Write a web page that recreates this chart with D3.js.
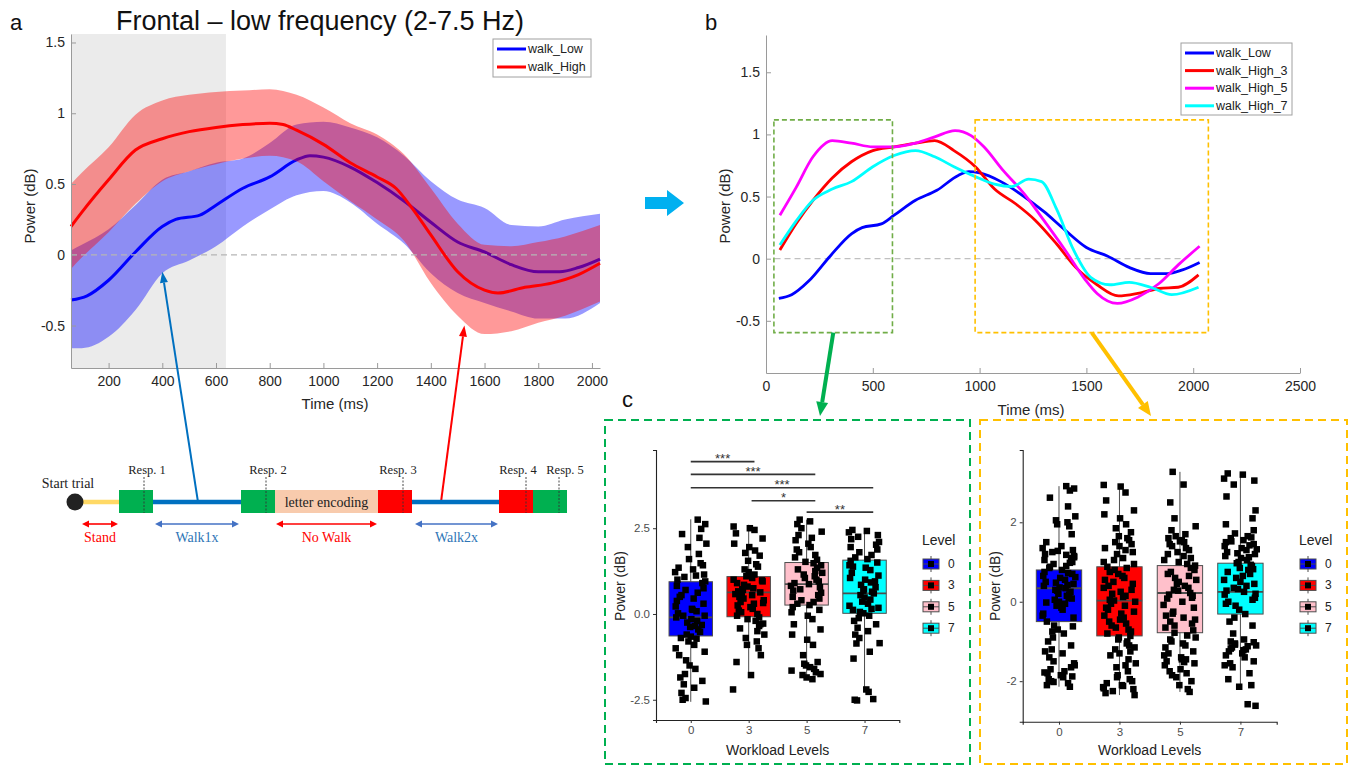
<!DOCTYPE html>
<html><head><meta charset="utf-8">
<script src="https://cdn.jsdelivr.net/npm/d3@7"></script>
<style>
body{margin:0;background:#fff}
svg{display:block}
text{font-family:"Liberation Sans",Arial,sans-serif}
</style></head>
<body><svg id="fig" width="1358" height="766"></svg>
<script>
// ---------------- Panel a data ----------------
const bandT     = [60,100,200,300,400,500,600,700,800,900,1000,1100,1200,1300,1400,1500,1600,1700,1800,1900,2030];
const lowUpper  = [0.03,0.07,0.18,0.35,0.53,0.59,0.65,0.68,0.79,0.92,0.94,0.90,0.83,0.70,0.52,0.39,0.33,0.21,0.20,0.25,0.29];
const lowLower  = [-0.66,-0.66,-0.58,-0.39,-0.13,-0.04,0.06,0.20,0.32,0.42,0.45,0.37,0.22,0.08,-0.13,-0.27,-0.34,-0.40,-0.45,-0.45,-0.34];
const highUpper = [0.50,0.58,0.76,0.99,1.09,1.13,1.15,1.16,1.17,1.13,1.04,0.93,0.85,0.71,0.47,0.22,0.07,0.06,0.09,0.13,0.21];
const highLower = [-0.10,-0.02,0.16,0.36,0.52,0.59,0.64,0.68,0.70,0.66,0.52,0.38,0.25,0.10,-0.20,-0.43,-0.56,-0.54,-0.48,-0.43,-0.33];
const lowT    = [60,120,200,300,400,450,540,600,700,800,900,950,1000,1100,1200,1300,1400,1500,1600,1700,1800,1880,1950,2030];
const lowMean = [-0.32,-0.29,-0.18,0.02,0.20,0.25,0.28,0.35,0.47,0.55,0.67,0.70,0.69,0.62,0.51,0.38,0.23,0.09,0.02,-0.07,-0.12,-0.12,-0.09,-0.03];
const highT    = [60,100,200,300,400,500,600,700,800,850,900,1000,1100,1200,1270,1330,1400,1500,1600,1650,1750,1850,1950,2030];
const highMean = [0.20,0.30,0.53,0.74,0.82,0.87,0.90,0.92,0.93,0.92,0.88,0.78,0.65,0.55,0.47,0.33,0.14,-0.12,-0.25,-0.27,-0.23,-0.20,-0.14,-0.06];
const xTicksA = [200,400,600,800,1000,1200,1400,1600,1800,2000];
const yTicksA = [-0.5,0,0.5,1,1.5];
const shadeA = [60,637];
const legendA = ["walk_Low","walk_High"];

// ---------------- Panel b data ----------------
const h3T = [65,140,220,310,400,500,600,700,790,880,980,1070,1170,1260,1360,1450,1550,1650,1740,1840,1930,2025];
const h3V = [0.07,0.28,0.47,0.65,0.78,0.87,0.90,0.93,0.95,0.87,0.74,0.56,0.44,0.31,0.12,-0.07,-0.21,-0.30,-0.28,-0.24,-0.23,-0.13];
const h5T = [65,140,220,310,400,500,600,700,790,885,960,1020,1110,1210,1300,1400,1495,1550,1645,1740,1840,1930,2030];
const h5V = [0.35,0.57,0.82,0.95,0.93,0.90,0.90,0.93,0.98,1.03,0.99,0.90,0.71,0.52,0.31,0.07,-0.17,-0.28,-0.36,-0.31,-0.20,-0.05,0.10];
const h7T = [65,140,220,310,400,500,600,700,790,880,980,1070,1150,1230,1290,1360,1440,1520,1610,1700,1800,1900,2025];
const h7V = [0.11,0.30,0.47,0.56,0.62,0.74,0.83,0.87,0.82,0.74,0.66,0.60,0.58,0.64,0.62,0.40,0.07,-0.15,-0.21,-0.19,-0.23,-0.29,-0.23];
const xTicksB = [0,500,1000,1500,2000,2500];
const yTicksB = [-0.5,0,0.5,1,1.5];
const legendB = ["walk_Low","walk_High_3","walk_High_5","walk_High_7"];
const earlyWin = [37,592,-0.595,1.117];   // ms0, ms1, v0, v1
const lateWin  = [979,2071,-0.595,1.117];

// ---------------- Panel c data ----------------
const levels = ["0","3","5","7"];
// [lower whisker, Q1, median, Q3, upper whisker]
const earlyStats = [[-2.56,-0.64,-0.10,0.94,2.76],[-1.78,-0.08,0.63,1.09,2.60],[-1.92,0.26,0.87,1.50,2.75],[-2.27,0.02,0.60,1.57,2.50]];
const lateStats  = [[-2.14,-0.50,0.34,0.80,2.91],[-2.35,-0.86,0.03,0.88,2.94],[-2.27,-0.78,0.22,0.91,3.27],[-2.14,-0.31,0.25,0.97,3.23]];
const early0 = [2.75,2.62,2.48,2.33,2.22,2.05,1.95,1.75,1.6,1.48,1.42,1.35,1.3,1.22,1.15,1.08,1.0,0.95,0.9,0.82,0.75,0.7,0.62,0.55,0.45,0.38,0.3,0.22,0.15,0.08,0.02,-0.05,-0.1,-0.15,-0.2,-0.25,-0.32,-0.38,-0.45,-0.52,-0.6,-0.66,-0.72,-0.8,-0.9,-1.0,-1.1,-1.2,-1.35,-1.5,-1.6,-1.75,-1.85,-1.95,-2.05,-2.15,-2.3,-2.45,-2.55,-2.5,1.12,0.5,0.12,-0.35,-0.7,-0.05];
const early3 = [2.55,2.5,2.45,2.35,2.2,2.05,1.95,1.85,1.78,1.7,1.55,1.45,1.38,1.3,1.22,1.15,1.1,1.05,1.0,0.95,0.9,0.85,0.8,0.75,0.7,0.66,0.63,0.6,0.55,0.5,0.45,0.4,0.35,0.3,0.25,0.2,0.15,0.1,0.05,0.0,-0.05,-0.1,-0.15,-0.2,-0.28,-0.35,-0.42,-0.5,-0.6,-0.7,-0.8,-0.9,-1.0,-1.2,-1.4,-1.78,-2.2,0.98,0.72,0.58,0.32,-0.3];
const early5 = [2.75,2.7,2.62,2.5,2.4,2.3,2.22,2.15,2.05,1.95,1.88,1.8,1.72,1.65,1.58,1.52,1.48,1.42,1.35,1.3,1.25,1.2,1.15,1.1,1.05,1.0,0.95,0.9,0.87,0.82,0.78,0.72,0.68,0.62,0.55,0.5,0.45,0.4,0.35,0.3,0.26,0.2,0.12,0.05,-0.05,-0.15,-0.3,-0.45,-0.6,-0.75,-0.9,-1.2,-1.4,-1.5,-1.6,-1.7,-1.78,-1.85,-1.9,-1.45,-1.55,-1.65,-1.75];
const early7 = [2.45,2.42,2.38,2.3,2.25,2.18,2.1,2.02,1.95,1.88,1.8,1.72,1.65,1.6,1.55,1.5,1.42,1.35,1.28,1.2,1.12,1.05,1.0,0.92,0.85,0.78,0.72,0.65,0.6,0.55,0.48,0.42,0.36,0.3,0.24,0.18,0.12,0.06,0.02,-0.05,-0.12,-0.2,-0.3,-0.4,-0.5,-0.6,-0.7,-0.85,-0.86,-1.1,-1.3,-2.2,-2.27,-2.5,-2.52,-2.48,1.38,0.95,0.68,0.15];
const late0 = [2.91,2.85,2.8,2.62,2.4,2.15,2.05,2.0,1.95,1.9,1.7,1.5,1.4,1.35,1.3,1.25,1.2,1.15,1.1,1.05,1.0,0.95,0.9,0.85,0.8,0.75,0.7,0.65,0.6,0.55,0.5,0.45,0.4,0.36,0.34,0.3,0.25,0.2,0.15,0.1,0.05,0.0,-0.05,-0.1,-0.2,-0.3,-0.4,-0.5,-0.6,-0.7,-0.8,-0.9,-1.0,-1.1,-1.2,-1.3,-1.4,-1.5,-1.6,-1.7,-1.75,-1.8,-1.85,-1.9,-1.95,-2.0,-2.05,-2.1,-2.14,1.28,1.18,1.12,0.98,0.88,0.72,0.62,0.48,0.42,0.28,0.18,0.08,-0.02,-0.15,-0.35,-0.62,-0.75,-1.25,-1.55,-1.65,-1.78,-1.88,-2.02];
const late3 = [2.94,2.9,2.75,2.55,2.3,2.2,2.1,1.95,1.85,1.75,1.65,1.6,1.55,1.5,1.4,1.3,1.2,1.1,1.0,0.95,0.88,0.8,0.7,0.6,0.5,0.4,0.3,0.2,0.12,0.05,0.03,0.0,-0.05,-0.1,-0.2,-0.3,-0.4,-0.5,-0.6,-0.7,-0.8,-0.86,-0.95,-1.05,-1.15,-1.25,-1.35,-1.45,-1.55,-1.65,-1.75,-1.85,-1.95,-2.0,-2.05,-2.1,-2.15,-2.2,-2.25,-2.3,-2.35,1.45,1.35,1.25,1.05,0.85,0.75,0.65,0.55,0.45,0.35,0.25,0.15,-0.15,-0.25,-0.35,-0.45,-0.55,-0.65,-0.75,-0.9,-1.0,-1.1,-1.2,-1.3,-1.6,-1.9,-2.12,-2.18];
const late5 = [3.27,2.95,2.5,2.1,1.9,1.8,1.7,1.6,1.55,1.5,1.45,1.4,1.3,1.2,1.1,1.0,0.95,0.91,0.85,0.75,0.65,0.55,0.45,0.35,0.28,0.22,0.15,0.08,0.0,-0.08,-0.15,-0.25,-0.35,-0.45,-0.55,-0.65,-0.72,-0.78,-0.85,-0.95,-1.05,-1.15,-1.25,-1.35,-1.4,-1.45,-1.5,-1.55,-1.6,-1.7,-1.8,-1.9,-2.0,-2.1,-2.2,-2.27,1.65,1.52,1.35,1.25,1.15,1.05,0.8,0.7,0.6,0.5,0.4,0.3,0.18,0.1,-0.3,-0.4,-0.5,-0.6,-0.9,-1.0,-1.1,-1.3,-1.45,-1.52,-1.75,-1.85];
const late7 = [3.23,3.2,3.1,3.05,2.95,2.65,2.3,2.1,1.95,1.8,1.72,1.65,1.6,1.55,1.5,1.45,1.4,1.35,1.3,1.25,1.2,1.15,1.1,1.05,0.97,0.9,0.85,0.8,0.7,0.6,0.5,0.4,0.32,0.25,0.18,0.1,0.0,-0.1,-0.2,-0.31,-0.4,-0.5,-0.6,-0.8,-0.95,-1.0,-1.05,-1.1,-1.15,-1.2,-1.25,-1.3,-1.4,-1.55,-1.65,-1.8,-1.95,-2.1,-2.14,-2.58,-2.62,1.62,1.52,1.42,1.32,1.22,1.12,1.0,0.93,0.82,0.75,0.65,0.55,0.45,0.35,0.28,0.2,0.05,-0.05,-1.02,-1.08,-1.12,-1.18,-1.22,-1.35,-1.5,-1.6];
const jitter = [0.12,-0.2,0.05,0.25,-0.08,-0.24,0.18,-0.02,0.22,-0.15,0.08,-0.26,0.15,-0.1,0.02,0.27,-0.18,0.1,-0.05,0.2,-0.22,0.14,-0.12,0.24,-0.03,0.06,-0.25,0.17,-0.16,0.01,0.21,-0.09,0.11,-0.21,0.26,-0.06,0.04,-0.14,0.19,-0.27,0.09,-0.01,0.23,-0.19,0.13,-0.11,0.03,0.16,-0.23,0.07,-0.07,0.25,-0.17,0.0,0.2,-0.13,0.1,-0.24,0.15,-0.04,0.22,-0.2,0.06,-0.09,0.18,-0.26,0.12,-0.02,0.24,-0.16];
// significance: [from level idx, to level idx, height (dB), label]
const sigBars = [[0,1.1,4.44,"***"],[0,2.15,4.07,"***"],[0,3.15,3.68,"***"],[1.05,2.15,3.30,"*"],[2.0,3.15,2.97,"**"]];
const yTicksEarly = [-2.5,0,2.5];
const yTicksLate = [-2,0,2];

// ---------------- Timeline schematic ----------------
const tlStages = [
  {k:"line", a:83, b:119, c:"#ffd966"},
  {k:"line", a:153,b:241, c:"#0070c0"},
  {k:"line", a:412,b:499, c:"#0070c0"},
  {k:"box", a:119,b:153, c:"#00b050"},
  {k:"box", a:241,b:275, c:"#00b050"},
  {k:"box", a:275,b:378, c:"#f8cbad", t:"letter encoding"},
  {k:"box", a:378,b:412, c:"#ff0000"},
  {k:"box", a:499,b:533, c:"#ff0000"},
  {k:"box", a:533,b:567, c:"#00b050"}];
// [dashed marker x, label centre x, label]
const tlResp = [[144,147,"Resp. 1"],[266,268,"Resp. 2"],[403,398,"Resp. 3"],[526,518,"Resp. 4"],[559,565,"Resp. 5"]];
const tlPhases = [[82,118,"Stand","#ff0000","#ff0000"],[155,239,"Walk1x","#4472c4","#2e75b6"],[276,377,"No Walk","#ff0000","#ff0000"],[415,498,"Walk2x","#4472c4","#2e75b6"]];

// =================================================
const svg = d3.select("#fig");
const C = {low:"#0000ff", high:"#ff0000", h5:"#ff00ff", h7:"#00ffff"};
const zip = (T,V)=>T.map((t,i)=>[t,V[i]]);
const SERIF = "'Liberation Serif','Times New Roman',serif";

function arrow(g,x1,y1,x2,y2,color,w,hl,hw){
  const a=Math.atan2(y2-y1,x2-x1), bx=x2-hl*Math.cos(a), by=y2-hl*Math.sin(a);
  g.append("line").attr("x1",x1).attr("y1",y1).attr("x2",bx).attr("y2",by).attr("stroke",color).attr("stroke-width",w);
  const px=Math.sin(a)*hw/2, py=-Math.cos(a)*hw/2;
  g.append("polygon").attr("points",[[x2,y2],[bx+px,by+py],[bx-px,by-py]].map(p=>p.join(",")).join(" ")).attr("fill",color);
}
function styleMatlabAxis(g){
  g.select(".domain").attr("stroke","#9a9a9a").attr("stroke-width",1);
  g.selectAll(".tick line").attr("stroke","#9a9a9a");
  g.selectAll(".tick text").attr("fill","#262626").style("font-size","14px").style("font-family","'Liberation Sans',Arial,sans-serif");
}

// ---------------- Panel a ----------------
{
  const x = d3.scaleLinear([60,2030],[71,600]);
  const y = d3.scaleLinear([-0.8,1.56],[368,34]);
  const g = svg.append("g");
  g.append("rect").attr("x",x(shadeA[0])).attr("y",y(1.56)).attr("width",x(shadeA[1])-x(shadeA[0])).attr("height",y(-0.8)-y(1.56)).attr("fill","#ebebeb");
  const area = (U,L)=>d3.area().x((d,i)=>x(bandT[i])).y0((d,i)=>y(L[i])).y1((d,i)=>y(U[i])).curve(d3.curveMonotoneX)(bandT);
  const line = d3.line().x(d=>x(d[0])).y(d=>y(d[1])).curve(d3.curveMonotoneX);
  g.append("path").attr("d",area(lowUpper,lowLower)).attr("fill","rgba(0,0,255,0.4)");
  g.append("path").attr("d",line(zip(lowT,lowMean))).attr("fill","none").attr("stroke",C.low).attr("stroke-width",3);
  g.append("path").attr("d",area(highUpper,highLower)).attr("fill","rgba(255,0,0,0.4)");
  g.append("line").attr("x1",x(60)).attr("x2",x(1985)).attr("y1",y(0)).attr("y2",y(0)).attr("stroke","#b5b5b5").attr("stroke-dasharray","6,4").attr("stroke-width",1.2);
  g.append("path").attr("d",line(zip(highT,highMean))).attr("fill","none").attr("stroke",C.high).attr("stroke-width",3);
  const ax = g.append("g").attr("transform",`translate(0,${y(-0.8)})`).call(d3.axisBottom(x).tickValues(xTicksA).tickSizeInner(-5).tickSizeOuter(0).tickPadding(8).tickFormat(d=>String(d)));
  styleMatlabAxis(ax);
  const ay = g.append("g").attr("transform",`translate(${x(60)},0)`).call(d3.axisLeft(y).tickValues(yTicksA).tickSizeInner(-5).tickSizeOuter(0).tickPadding(6).tickFormat(d=>String(d)));
  styleMatlabAxis(ay);
  g.append("text").attr("x",335).attr("y",403).attr("text-anchor","middle").attr("dominant-baseline","central").style("font-size","15px").attr("fill","#262626").text("Time (ms)");
  g.append("text").attr("transform","translate(29,206) rotate(-90)").attr("text-anchor","middle").attr("dominant-baseline","central").style("font-size","15px").attr("fill","#262626").text("Power (dB)");
  g.append("text").attr("x",320).attr("y",21).attr("text-anchor","middle").attr("dominant-baseline","central").style("font-size","27px").attr("fill","#111").text("Frontal \u2013 low frequency (2-7.5 Hz)");
  g.append("text").attr("x",10).attr("y",22).attr("dominant-baseline","central").style("font-size","22px").attr("fill","#111").text("a");
  // legend
  const lg = g.append("g");
  lg.append("rect").attr("x",493).attr("y",39).attr("width",98).attr("height",38).attr("fill","#fff").attr("stroke","#a0a0a0");
  [C.low,C.high].forEach((c,i)=>{
    const yy=49+i*18;
    lg.append("line").attr("x1",497).attr("x2",526).attr("y1",yy).attr("y2",yy).attr("stroke",c).attr("stroke-width",3);
    lg.append("text").attr("x",528).attr("y",yy).attr("dominant-baseline","central").style("font-size","12.5px").attr("fill","#222").text(legendA[i]);
  });
  // arrows from schematic
  arrow(g,198,502,x(400),y(-0.12),"#0070c0",2,11,8);
  arrow(g,441,502,x(1525),y(-0.5),"#ff0000",2,11,8);
}

// ---------------- Timeline schematic ----------------
{
  const g = svg.append("g");
  const yl = 502;
  tlStages.filter(s=>s.k==="line").forEach(s=>g.append("line").attr("x1",s.a).attr("x2",s.b).attr("y1",yl).attr("y2",yl).attr("stroke",s.c).attr("stroke-width",4.5));
  g.append("circle").attr("cx",75).attr("cy",yl).attr("r",8.5).attr("fill","#222");
  tlStages.filter(s=>s.k==="box").forEach(s=>{
    g.append("rect").attr("x",s.a).attr("y",490).attr("width",s.b-s.a).attr("height",23).attr("fill",s.c);
    if(s.t) g.append("text").attr("x",(s.a+s.b)/2).attr("y",502).attr("text-anchor","middle").attr("dominant-baseline","central").style("font-family",SERIF).style("font-size","14px").attr("fill","#222").text(s.t);
  });
  tlResp.forEach(([xx,lx,t])=>{
    g.append("line").attr("x1",xx).attr("x2",xx).attr("y1",477).attr("y2",513).attr("stroke","#333").attr("stroke-width",0.9).attr("stroke-dasharray","2,1.5");
    g.append("text").attr("x",lx).attr("y",470).attr("text-anchor","middle").attr("dominant-baseline","central").style("font-family",SERIF).style("font-size","12.5px").attr("fill","#222").text(t);
  });
  g.append("text").attr("x",68).attr("y",483).attr("text-anchor","middle").attr("dominant-baseline","central").style("font-family",SERIF).style("font-size","14px").attr("fill","#222").text("Start trial");
  tlPhases.forEach(([a,b,t,c,tc])=>{
    const yy=524;
    g.append("line").attr("x1",a+5).attr("x2",b-5).attr("y1",yy).attr("y2",yy).attr("stroke",c).attr("stroke-width",1.6);
    g.append("polygon").attr("points",`${a},${yy} ${a+7},${yy-3.5} ${a+7},${yy+3.5}`).attr("fill",c);
    g.append("polygon").attr("points",`${b},${yy} ${b-7},${yy-3.5} ${b-7},${yy+3.5}`).attr("fill",c);
    g.append("text").attr("x",(a+b)/2).attr("y",537).attr("text-anchor","middle").attr("dominant-baseline","central").style("font-family",SERIF).style("font-size","14px").attr("fill",tc).text(t);
  });
}

// big block arrow a -> b
svg.append("polygon").attr("points","645,197 667,197 667,190 684,203 667,216 667,209 645,209").attr("fill","#00b0f0");

// ---------------- Panel b ----------------
{
  const x = d3.scaleLinear([0,2500],[766,1300]);
  const y = d3.scaleLinear([-0.92,1.8],[373,35]);
  const g = svg.append("g");
  const line = d3.line().x(d=>x(d[0])).y(d=>y(d[1])).curve(d3.curveMonotoneX);
  g.append("line").attr("x1",x(40)).attr("x2",x(1965)).attr("y1",y(0)).attr("y2",y(0)).attr("stroke","#c0c0c0").attr("stroke-dasharray","6,4").attr("stroke-width",1.2);
  const series = [[lowT,lowMean,C.low],[h3T,h3V,C.high],[h5T,h5V,C.h5],[h7T,h7V,C.h7]];
  series.forEach(([T,V,c])=>g.append("path").attr("d",line(zip(T,V))).attr("fill","none").attr("stroke",c).attr("stroke-width",2.8));
  const box=(w,c)=>g.append("rect").attr("x",x(w[0])).attr("y",y(w[3])).attr("width",x(w[1])-x(w[0])).attr("height",y(w[2])-y(w[3])).attr("fill","none").attr("stroke",c).attr("stroke-width",1.6).attr("stroke-dasharray","5,3");
  box(earlyWin,"#70ad47"); box(lateWin,"#ffc000");
  const ax = g.append("g").attr("transform",`translate(0,${y(-0.92)})`).call(d3.axisBottom(x).tickValues(xTicksB).tickSizeInner(-5).tickSizeOuter(0).tickPadding(8).tickFormat(d=>String(d)));
  styleMatlabAxis(ax);
  const ay = g.append("g").attr("transform",`translate(${x(0)},0)`).call(d3.axisLeft(y).tickValues(yTicksB).tickSizeInner(-5).tickSizeOuter(0).tickPadding(6).tickFormat(d=>String(d)));
  styleMatlabAxis(ay);
  g.append("text").attr("x",1031).attr("y",409).attr("text-anchor","middle").attr("dominant-baseline","central").style("font-size","15px").attr("fill","#262626").text("Time (ms)");
  g.append("text").attr("transform","translate(724,206) rotate(-90)").attr("text-anchor","middle").attr("dominant-baseline","central").style("font-size","15px").attr("fill","#262626").text("Power (dB)");
  g.append("text").attr("x",705).attr("y",22).attr("dominant-baseline","central").style("font-size","22px").attr("fill","#111").text("b");
  const lg = g.append("g");
  lg.append("rect").attr("x",1181).attr("y",43).attr("width",111).attr("height",72).attr("fill","#fff").attr("stroke","#a0a0a0");
  series.forEach(([T,V,c],i)=>{
    const yy=53+i*17.6;
    lg.append("line").attr("x1",1185).attr("x2",1214).attr("y1",yy).attr("y2",yy).attr("stroke",c).attr("stroke-width",3);
    lg.append("text").attr("x",1216).attr("y",yy).attr("dominant-baseline","central").style("font-size","12.5px").attr("fill","#222").text(legendB[i]);
  });
  arrow(g,x(315),y(-0.595),820,416,"#00b050",4,14,12);
  arrow(g,x(1525),y(-0.595),1151,416,"#ffc000",4,14,12);
}

// ---------------- Panel c ----------------
svg.append("text").attr("x",622).attr("y",399).attr("dominant-baseline","central").style("font-size","22px").attr("fill","#111").text("c");
const boxFills = ["#0000ff","#ff0000","#ffc0cb","#00ffff"];

function boxPanel(opt){
  const g = svg.append("g");
  g.append("rect").attr("x",opt.frame[0]).attr("y",opt.frame[1]).attr("width",opt.frame[2]).attr("height",opt.frame[3]).attr("fill","none").attr("stroke",opt.frameColor).attr("stroke-width",2).attr("stroke-dasharray","8,5");
  const x = d3.scaleLinear([-0.6,3.6],opt.xr);
  const y = d3.scaleLinear(opt.yd,opt.yr);
  const bw = 0.75;
  opt.stats.forEach((s,i)=>{
    g.append("line").attr("x1",x(i)).attr("x2",x(i)).attr("y1",y(s[0])).attr("y2",y(s[4])).attr("stroke","#4d4d4d").attr("stroke-width",1);
    g.append("rect").attr("x",x(i-bw/2)).attr("y",y(s[3])).attr("width",x(i+bw/2)-x(i-bw/2)).attr("height",y(s[1])-y(s[3])).attr("fill",boxFills[i]).attr("stroke","#4d4d4d").attr("stroke-width",1);
    g.append("line").attr("x1",x(i-bw/2)).attr("x2",x(i+bw/2)).attr("y1",y(s[2])).attr("y2",y(s[2])).attr("stroke","#4d4d4d").attr("stroke-width",1.8);
  });
  const sz=6.5;
  opt.points.forEach((arr,gi)=>{
    arr.forEach((v,i)=>{
      const j = jitter[(i*3+gi*11)%jitter.length];
      g.append("rect").attr("x",x(gi+j)-sz/2).attr("y",y(v)-sz/2).attr("width",sz).attr("height",sz).attr("fill","#000");
    });
  });
  // axes
  const ax = g.append("g").attr("transform",`translate(0,${opt.yr[0]})`).call(d3.axisBottom(x).tickValues([0,1,2,3]).tickSizeOuter(0).tickSize(3).tickPadding(3).tickFormat(d=>levels[d]));
  const ay = g.append("g").attr("transform",`translate(${opt.xr[0]},0)`).call(d3.axisLeft(y).tickValues(opt.yTicks).tickSizeOuter(0).tickSize(3).tickPadding(3).tickFormat(opt.fmt));
  [ax,ay].forEach(a=>{
    a.select(".domain").attr("stroke","#222").attr("stroke-width",1.1);
    a.selectAll(".tick line").attr("stroke","#333");
    a.selectAll(".tick text").attr("fill","#4d4d4d").style("font-size","11.5px");
  });
  g.append("text").attr("x",(opt.xr[0]+opt.xr[1])/2).attr("y",750).attr("text-anchor","middle").attr("dominant-baseline","central").style("font-size","14px").attr("fill","#222").text("Workload Levels");
  g.append("text").attr("transform",`translate(${opt.ylabX},586) rotate(-90)`).attr("text-anchor","middle").attr("dominant-baseline","central").style("font-size","14px").attr("fill","#222").text("Power (dB)");
  // legend
  const lx = opt.legX;
  g.append("text").attr("x",lx-1).attr("y",540).attr("dominant-baseline","central").style("font-size","14px").attr("fill","#222").text("Level");
  levels.forEach((lv,i)=>{
    const cy = 564+i*21.4;
    g.append("line").attr("x1",lx+8).attr("x2",lx+8).attr("y1",cy-8).attr("y2",cy+8).attr("stroke","#4d4d4d");
    g.append("rect").attr("x",lx).attr("y",cy-5).attr("width",16).attr("height",10).attr("fill",boxFills[i]).attr("stroke","#4d4d4d");
    g.append("line").attr("x1",lx).attr("x2",lx+16).attr("y1",cy).attr("y2",cy).attr("stroke","#4d4d4d");
    g.append("rect").attr("x",lx+5).attr("y",cy-3).attr("width",6).attr("height",6).attr("fill","#000");
    g.append("text").attr("x",lx+25).attr("y",cy).attr("dominant-baseline","central").style("font-size","12px").attr("fill","#222").text(lv);
  });
  if(opt.sig){
    opt.sig.forEach(([a,b,h,t])=>{
      g.append("line").attr("x1",x(a)).attr("x2",x(b)).attr("y1",y(h)).attr("y2",y(h)).attr("stroke","#333").attr("stroke-width",1.6);
      g.append("text").attr("x",(x(a)+x(b))/2).attr("y",y(h)+1.5).attr("text-anchor","middle").style("font-size","13px").attr("fill","#333").text(t);
    });
  }
}
boxPanel({frame:[605,420,365,344], frameColor:"#00b050", xr:[656,899.3], yd:[-3.09,4.78], yr:[720,450],
  stats:earlyStats, points:[early0,early3,early5,early7], yTicks:yTicksEarly, fmt:d=>d.toFixed(1),
  ylabX:620, legX:923, sig:sigBars});
boxPanel({frame:[980,420,367,344], frameColor:"#ffc000", xr:[1022.7,1276.7], yd:[-3.02,3.82], yr:[721.7,450],
  stats:lateStats, points:[late0,late3,late5,late7], yTicks:yTicksLate, fmt:d=>String(d),
  ylabX:995, legX:1300, sig:null});
</script></body></html>
